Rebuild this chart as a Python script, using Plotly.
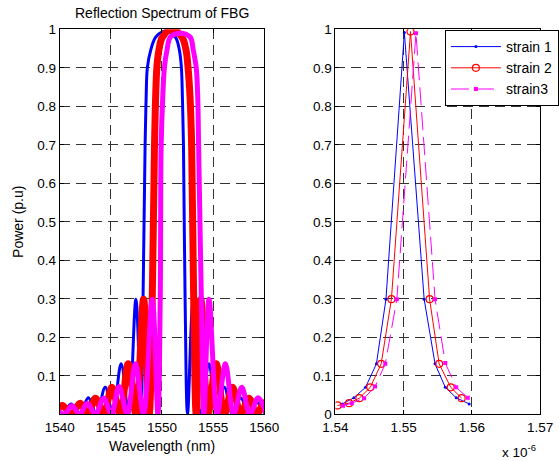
import plotly.graph_objects as go

# ---------------- Left panel: reflection spectra (nm, p.u.) ----------------
s1_wl = [1539.6, 1540.35, 1541.1, 1541.95, 1542.8, 1543.6, 1544.45, 1545.2, 1546.0, 1546.75, 1547.45, 1547.95,
         1548.15, 1548.35, 1548.45, 1548.57, 1548.9, 1549.4, 1550.3, 1551.3, 1551.7, 1551.9, 1552.0, 1552.1, 1552.26,
         1552.5, 1553.05, 1553.8, 1554.6, 1555.35, 1556.1, 1556.9, 1557.7, 1558.5, 1559.3, 1560.1]
s1_pw = [0.02, 0, 0.027, 0, 0.043, 0, 0.07, 0, 0.131, 0, 0.299, 0,
         0.3, 0.7, 0.82, 0.9, 0.946, 0.98, 0.995, 0.98, 0.946, 0.9, 0.82, 0.7, 0.3,
         0, 0.299, 0, 0.131, 0, 0.07, 0, 0.043, 0, 0.03, 0]

s2_wl = [1539.5, 1540.25, 1541.15, 1542.0, 1542.75, 1543.5, 1544.3, 1545.1, 1545.9, 1546.7, 1547.45, 1548.2, 1548.75,
         1549.05, 1549.27, 1549.5, 1549.7, 1550.05, 1550.95, 1551.95, 1552.35, 1552.55, 1552.75, 1552.9, 1553.1,
         1553.35, 1553.8, 1554.5, 1555.3, 1556.1, 1556.9, 1557.7, 1558.5, 1559.25, 1560.0, 1560.7]
s2_pw = [0, 0.023, 0, 0.029, 0, 0.042, 0, 0.07, 0, 0.131, 0, 0.299, 0,
         0.3, 0.7, 0.9, 0.946, 0.98, 1.0, 0.98, 0.946, 0.9, 0.82, 0.7, 0.3,
         0, 0.299, 0, 0.131, 0, 0.07, 0, 0.042, 0, 0.03, 0]

s3_wl = [1539.7, 1540.45, 1541.2, 1541.95, 1542.7, 1543.5, 1544.3, 1545.05, 1545.8, 1546.6, 1547.4, 1548.2, 1549.05, 1549.6,
         1549.83, 1549.92, 1550.07, 1550.24, 1550.49, 1550.83, 1551.75, 1552.75, 1553.06, 1553.35, 1553.5, 1553.58, 1553.85,
         1554.1, 1554.6, 1555.4, 1556.2, 1557.0, 1557.8, 1558.6, 1559.4, 1560.2]
s3_pw = [0.015, 0, 0.022, 0, 0.029, 0, 0.042, 0, 0.072, 0, 0.131, 0, 0.299, 0,
         0.3, 0.7, 0.82, 0.9, 0.946, 0.98, 0.99, 0.98, 0.946, 0.9, 0.82, 0.7, 0.3,
         0, 0.299, 0, 0.131, 0, 0.07, 0, 0.043, 0]

# ---------------- Right panel: side-lobe peaks (x 10^-6 m, p.u.) ----------------
p1_x = [1.5410, 1.5427, 1.5444, 1.5460, 1.5474, 1.5501, 1.5530, 1.5546, 1.5561, 1.5577, 1.5596]
p1_y = [0.027, 0.043, 0.070, 0.131, 0.299, 0.992, 0.299, 0.131, 0.070, 0.043, 0.027]
p2_x = [1.5403, 1.5420, 1.5435, 1.5451, 1.5467, 1.5482, 1.5510, 1.5538, 1.5552, 1.5569, 1.5585]
p2_y = [0.023, 0.029, 0.042, 0.070, 0.131, 0.299, 0.994, 0.299, 0.131, 0.070, 0.042]
p3_x = [1.5411, 1.5424, 1.5442, 1.5458, 1.5473, 1.5490, 1.5518, 1.5546, 1.5561, 1.5577, 1.5594]
p3_y = [0.022, 0.029, 0.042, 0.072, 0.131, 0.299, 0.990, 0.299, 0.133, 0.070, 0.043]

series_names = ["strain 1", "strain 2", "strain3"]
left_ticks = [1540, 1545, 1550, 1555, 1560]
left_yticks = [0.1, 0.2, 0.3, 0.4, 0.5, 0.6, 0.7, 0.8, 0.9, 1]
left_yticktext = ["0.1", "0.2", "0.3", "0.4", "0.5", "0.6", "0.7", "0.8", "0.9", "1"]
right_ticks = [1.54, 1.55, 1.56, 1.57]
right_ticktext = ["1.54", "1.55", "1.56", "1.57"]
right_yticks = [0, 0.1, 0.2, 0.3, 0.4, 0.5, 0.6, 0.7, 0.8, 0.9, 1]
right_yticktext = ["0", "0.1", "0.2", "0.3", "0.4", "0.5", "0.6", "0.7", "0.8", "0.9", "1"]

BLUE, RED, MAG = "#0000ff", "#ff0000", "#ff00ff"
W, H = 559, 461
FONT = "Liberation Sans, Arial, Helvetica, sans-serif"

fig = go.Figure()

# left spectra
for wl, pw, c, w in [(s1_wl, s1_pw, BLUE, 3), (s2_wl, s2_pw, RED, 7), (s3_wl, s3_pw, MAG, 5)]:
    fig.add_trace(go.Scatter(x=wl, y=pw, mode="lines", showlegend=False,
                             line=dict(color=c, width=w, shape="spline", smoothing=1.0),
                             xaxis="x", yaxis="y"))

# right side-lobe envelopes
fig.add_trace(go.Scatter(x=p1_x, y=p1_y, mode="lines+markers", name=series_names[0],
                         line=dict(color=BLUE, width=1), marker=dict(symbol="circle", size=3, color=BLUE),
                         xaxis="x2", yaxis="y2"))
fig.add_trace(go.Scatter(x=p2_x, y=p2_y, mode="lines+markers", name=series_names[1],
                         line=dict(color=RED, width=1),
                         marker=dict(symbol="circle-open", size=7, color=RED, line=dict(width=1.2, color=RED)),
                         xaxis="x2", yaxis="y2"))
fig.add_trace(go.Scatter(x=p3_x, y=p3_y, mode="lines+markers", name=series_names[2],
                         line=dict(color=MAG, width=1, dash="18px,7px"),
                         marker=dict(symbol="square", size=4, color=MAG),
                         xaxis="x2", yaxis="y2"))

x1d = [60 / W, 265.7 / W]
x2d = [337.3 / W, 543 / W]
yd = [1 - 414.3 / H, 1 - 29.3 / H]

axis_common = dict(showline=True, linecolor="black", linewidth=1, mirror="ticks",
                   ticks="inside", ticklen=4, tickcolor="black", automargin=False,
                   showgrid=True, gridcolor="#333333", gridwidth=1, griddash="10px,6px",
                   zeroline=False, tickfont=dict(family=FONT, size=13.5, color="black"))

fig.update_layout(
    template="none",
    width=W, height=H, margin=dict(l=0, r=0, t=0, b=0, pad=0), autosize=False,
    paper_bgcolor="white", plot_bgcolor="white",
    font=dict(family=FONT, size=13.5, color="black"),
    xaxis=dict(domain=x1d, range=[1540, 1560], tickvals=left_ticks, anchor="y", **axis_common),
    yaxis=dict(domain=yd, range=[0, 1], tickvals=left_yticks, ticktext=left_yticktext, anchor="x", **axis_common),
    xaxis2=dict(domain=x2d, range=[1.54, 1.57], tickvals=right_ticks, ticktext=right_ticktext, anchor="y2", **axis_common),
    yaxis2=dict(domain=yd, range=[0, 1], tickvals=right_yticks, ticktext=right_yticktext, anchor="x2", **axis_common),
    legend=dict(x=447.3 / W, y=1 - 30 / H, xanchor="left", yanchor="top",
                bgcolor="white", bordercolor="black", borderwidth=1,
                font=dict(family=FONT, size=14, color="black"), itemwidth=50,
                tracegroupgap=0),
    annotations=[
        dict(text="Reflection Spectrum of FBG", x=(x1d[0] + x1d[1]) / 2, y=1 - 13 / H, xref="paper", yref="paper",
             showarrow=False, font=dict(family=FONT, size=14, color="black"), xanchor="center", yanchor="middle"),
        dict(text="Wavelength (nm)", x=(x1d[0] + x1d[1]) / 2, y=1 - 446 / H, xref="paper", yref="paper",
             showarrow=False, font=dict(family=FONT, size=14, color="black"), xanchor="center", yanchor="middle"),
        dict(text="Power (p.u)", x=18 / W, y=1 - 222 / H, xref="paper", yref="paper", textangle=-90,
             showarrow=False, font=dict(family=FONT, size=14, color="black"), xanchor="center", yanchor="middle"),
        dict(text="x 10<sup>-6</sup>", x=522 / W, y=1 - 451 / H, xref="paper", yref="paper",
             showarrow=False, font=dict(family=FONT, size=13.5, color="black"), xanchor="center", yanchor="middle"),
    ],
)

fig.write_html("out.html", config={"displayModeBar": False},
               post_script="document.body.style.margin='0px';document.body.style.overflow='hidden';")
